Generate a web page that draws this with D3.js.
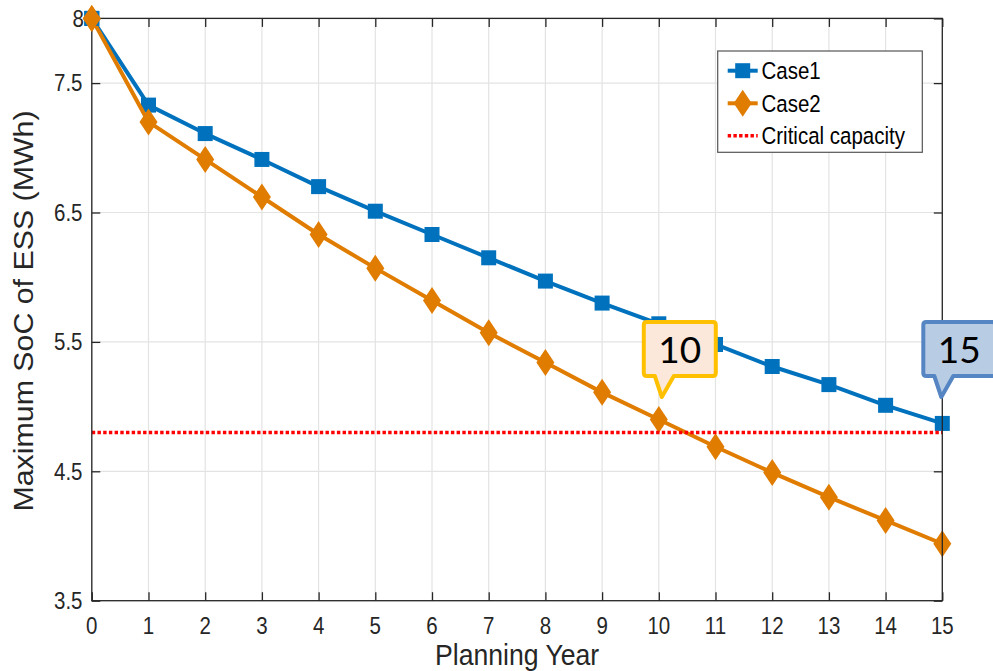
<!DOCTYPE html>
<html>
<head>
<meta charset="utf-8">
<script src="https://cdn.jsdelivr.net/npm/d3@7"></script>
<style>
  html, body { margin: 0; padding: 0; background: #ffffff; }
  svg { display: block; }
</style>
</head>
<body>
<svg id="chart" width="993" height="671"></svg>
<script>
// ---------- data ----------
const years = [0, 1, 2, 3, 4, 5, 6, 7, 8, 9, 10, 11, 12, 13, 14, 15];
const case1 = [8.00, 7.33, 7.11, 6.91, 6.70, 6.51, 6.33, 6.15, 5.97, 5.80, 5.64, 5.48, 5.31, 5.17, 5.01, 4.87];
const case2 = [8.00, 7.20, 6.91, 6.62, 6.33, 6.07, 5.82, 5.57, 5.34, 5.11, 4.90, 4.69, 4.49, 4.30, 4.12, 3.94];
const criticalCapacity = 4.80;
const yTicks = [3.5, 4.5, 5.5, 6.5, 7.5, 8];
const yTickLabels = ["3.5", "4.5", "5.5", "6.5", "7.5", "8"];
const xTicks = years;
const xTickLabels = ["0", "1", "2", "3", "4", "5", "6", "7", "8", "9", "10", "11", "12", "13", "14", "15"];
const seriesNames = ["Case1", "Case2", "Critical capacity"];
const calloutYears = [10, 15];
const calloutLabels = ["10", "15"];
const xTitle = "Planning Year";
const yTitle = "Maximum SoC of ESS (MWh)";

// ---------- layout ----------
const svg = d3.select("#chart");
const W = 993, H = 671;
const L = 91.8, R = 942.3, T = 18.4, B = 600.7;
const axisColor = "#262626";
const gridColor = "#e3e3e3";
const blue = "#0072BD";
const orange = "#E07C00";
const red = "#FF0000";
const font = "'Liberation Sans', Arial, Helvetica, sans-serif";
const SY = 1.13; // vertical stretch of the reference text

svg.append("rect").attr("width", W).attr("height", H).attr("fill", "#fff");

const x = d3.scaleLinear().domain([0, 15]).range([L, R]);
const y = d3.scaleLinear().domain([3.5, 8]).range([B, T]);

// text helper: baseline at (tx, ty), stretched vertically
function stretchedText(parent, tx, ty, str, size, anchor, color) {
  return parent.append("text")
    .attr("transform", `translate(${tx},${ty}) scale(1,${SY})`)
    .attr("text-anchor", anchor).attr("fill", color || axisColor)
    .style("font-family", font).style("font-size", size + "px").text(str);
}

// grid
const grid = svg.append("g");
grid.selectAll("line.vg").data(xTicks).enter().append("line")
  .attr("x1", d => x(d)).attr("x2", d => x(d))
  .attr("y1", T).attr("y2", B)
  .attr("stroke", gridColor).attr("stroke-width", 1.2);
grid.selectAll("line.hg").data(yTicks).enter().append("line")
  .attr("x1", L).attr("x2", R)
  .attr("y1", d => y(d)).attr("y2", d => y(d))
  .attr("stroke", gridColor).attr("stroke-width", 1.2);

// axes (inward ticks on all four sides; labels drawn separately)
const tickLen = 8.5;
const xAxis = d3.axisBottom(x).tickValues(xTicks).tickSizeInner(-tickLen).tickSizeOuter(0).tickFormat("");
const yAxis = d3.axisLeft(y).tickValues(yTicks).tickSizeInner(-tickLen).tickSizeOuter(0).tickFormat("");
const xAxisTop = d3.axisTop(x).tickValues(xTicks).tickSizeInner(-tickLen).tickSizeOuter(0).tickFormat("");
const yAxisRight = d3.axisRight(y).tickValues(yTicks).tickSizeInner(-tickLen).tickSizeOuter(0).tickFormat("");

function styleAxis(g) {
  g.select(".domain").remove();
  g.selectAll(".tick line").attr("stroke", axisColor).attr("stroke-width", 1.3);
  g.selectAll(".tick text").remove();
}

// series lines
const lineGen = d3.line().x((d, i) => x(years[i])).y(d => y(d));

svg.append("path").datum(case1).attr("d", lineGen)
  .attr("fill", "none").attr("stroke", blue).attr("stroke-width", 4).attr("stroke-linejoin", "round");
svg.selectAll("rect.c1").data(case1).enter().append("rect")
  .attr("x", (d, i) => x(years[i]) - 7.5).attr("y", d => y(d) - 7.5)
  .attr("width", 15).attr("height", 15).attr("fill", blue);

svg.append("path").datum(case2).attr("d", lineGen)
  .attr("fill", "none").attr("stroke", orange).attr("stroke-width", 4).attr("stroke-linejoin", "round");
const dW = 9, dH = 13.5;
const diamond = (cx, cy) => `M${cx},${cy - dH}L${cx + dW},${cy}L${cx},${cy + dH}L${cx - dW},${cy}Z`;
svg.selectAll("path.c2").data(case2).enter().append("path")
  .attr("d", (d, i) => diamond(x(years[i]), y(d))).attr("fill", orange);

// critical capacity line
svg.append("line")
  .attr("x1", x(0)).attr("x2", x(15))
  .attr("y1", y(criticalCapacity)).attr("y2", y(criticalCapacity))
  .attr("stroke", red).attr("stroke-width", 3.6).attr("stroke-dasharray", "3.4,2.3");

// axes
const gx = svg.append("g").attr("transform", `translate(0,${B})`).call(xAxis); styleAxis(gx);
const gy = svg.append("g").attr("transform", `translate(${L},0)`).call(yAxis); styleAxis(gy);
const gxt = svg.append("g").attr("transform", `translate(0,${T})`).call(xAxisTop); styleAxis(gxt);
const gyr = svg.append("g").attr("transform", `translate(${R},0)`).call(yAxisRight); styleAxis(gyr);
svg.append("rect").attr("x", L).attr("y", T).attr("width", R - L).attr("height", B - T)
  .attr("fill", "none").attr("stroke", axisColor).attr("stroke-width", 1.3);

// tick labels
const tickSize = 20.5;
xTicks.forEach((d, i) => stretchedText(svg, x(d), 634, xTickLabels[i], tickSize, "middle"));
yTicks.forEach((d, i) => stretchedText(svg, d === 8 ? 84 : 82.5, y(d) + 0.716 * tickSize * SY / 2, yTickLabels[i], tickSize, "end"));

// year-0 markers on top of frame (as in reference)
svg.append("rect").attr("x", x(years[0]) - 7.5).attr("y", y(case1[0]) - 7.5)
  .attr("width", 15).attr("height", 15).attr("fill", blue);
svg.append("path").attr("d", diamond(x(years[0]), y(case2[0]))).attr("fill", orange);

// axis titles
stretchedText(svg, (L + R) / 2, 665, xTitle, 26.6, "middle");
svg.append("text").attr("transform", `translate(33,311) rotate(-90)`)
  .attr("text-anchor", "middle").attr("fill", axisColor)
  .attr("textLength", 401).attr("lengthAdjust", "spacingAndGlyphs")
  .style("font-family", font).style("font-size", "28px").text(yTitle);

// legend
const lg = svg.append("g");
lg.append("rect").attr("x", 717.7).attr("y", 51).attr("width", 204.6).attr("height", 101.3)
  .attr("fill", "#fff").attr("stroke", "#555").attr("stroke-width", 1.2);
const legY = [70.7, 103.3, 135.7];
const lx1 = 727.7, lx2 = 757.7, lxm = (lx1 + lx2) / 2;
lg.append("line").attr("x1", lx1).attr("x2", lx2).attr("y1", legY[0]).attr("y2", legY[0])
  .attr("stroke", blue).attr("stroke-width", 4);
lg.append("rect").attr("x", lxm - 7.5).attr("y", legY[0] - 7.5).attr("width", 15).attr("height", 15).attr("fill", blue);
lg.append("line").attr("x1", lx1).attr("x2", lx2).attr("y1", legY[1]).attr("y2", legY[1])
  .attr("stroke", orange).attr("stroke-width", 4);
lg.append("path").attr("d", diamond(lxm, legY[1])).attr("fill", orange);
lg.append("line").attr("x1", lx1).attr("x2", lx2).attr("y1", legY[2]).attr("y2", legY[2])
  .attr("stroke", red).attr("stroke-width", 3.6).attr("stroke-dasharray", "3.4,2.3");
const legSize = 20.5;
seriesNames.forEach((nm, i) => stretchedText(lg, 761.5, legY[i] + 0.716 * legSize * SY / 2, nm, legSize, "start", "#000"));

// callouts
const calloutStyles = [
  { stroke: "#FFC000", fill: "#FCE8DA" },
  { stroke: "#5585C2", fill: "#B8CCE4" }
];
const tipY = 397;
calloutYears.forEach((yr, i) => {
  const tx = x(yr) + (i === 0 ? 3 : -1);
  const left = tx - 18, right = left + 72, top = 322, bottom = 376, r = 3;
  const b1 = tx - 7, b2 = tx + 12;
  const p = `M${left + r},${top}L${right - r},${top}Q${right},${top} ${right},${top + r}` +
    `L${right},${bottom - r}Q${right},${bottom} ${right - r},${bottom}` +
    `L${b2},${bottom}L${tx},${tipY}L${b1},${bottom}` +
    `L${left + r},${bottom}Q${left},${bottom} ${left},${bottom - r}` +
    `L${left},${top + r}Q${left},${top} ${left + r},${top}Z`;
  svg.append("path").attr("d", p).attr("fill", calloutStyles[i].fill)
    .attr("stroke", calloutStyles[i].stroke).attr("stroke-width", 4).attr("stroke-linejoin", "round");
  svg.append("text").attr("x", (left + right) / 2).attr("y", 363)
    .attr("text-anchor", "middle").attr("fill", "#000")
    .style("font-family", "Lato, 'Open Sans', sans-serif").style("font-size", "37px").text(calloutLabels[i]);
});
</script>
</body>
</html>
